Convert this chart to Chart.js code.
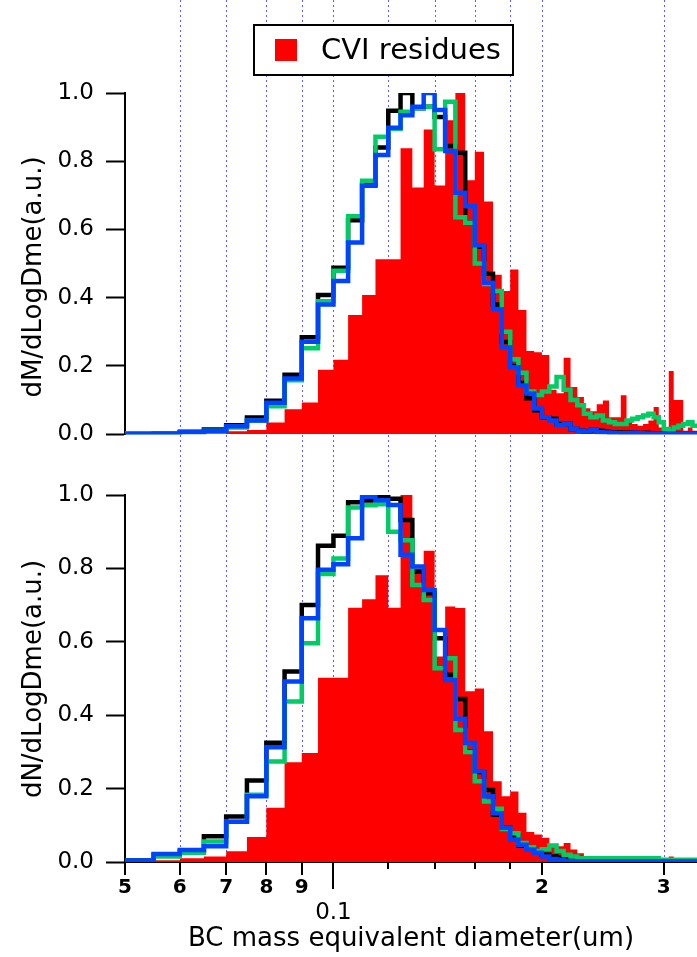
<!DOCTYPE html>
<html>
<head>
<meta charset="utf-8">
<script src="https://cdn.jsdelivr.net/npm/chart.js@4.4.1/dist/chart.umd.min.js"></script>
<style>
  html, body { margin: 0; padding: 0; background: #fff; }
  #wrap { position: relative; width: 697px; height: 957px; overflow: hidden; background: #fff; }
  canvas { position: absolute; left: 0; }
  #topChart { top: 0; }
  #bottomChart { top: 460px; }
</style>
</head>
<body>
<div id="wrap">
  <canvas id="topChart" width="697" height="460"></canvas>
  <canvas id="bottomChart" width="697" height="497"></canvas>
</div>
<script>
// Bordas dos bins (um), 5 nm de largura
const binEdges = [
  0.050, 0.055, 0.060, 0.065, 0.070, 0.075, 0.080, 0.085, 0.090, 0.095,
  0.100, 0.105, 0.110, 0.115, 0.120, 0.125, 0.130, 0.135, 0.140, 0.145,
  0.150, 0.155, 0.160, 0.165, 0.170, 0.175, 0.180, 0.185, 0.190, 0.195,
  0.200, 0.205, 0.210, 0.215, 0.220, 0.225, 0.230, 0.235, 0.240, 0.245,
  0.250, 0.255, 0.260, 0.265, 0.270, 0.275, 0.280, 0.285, 0.290, 0.295,
  0.300, 0.305, 0.310, 0.315, 0.320, 0.325, 0.330, 0.335
];

// Painel de cima: dM/dLogDme
const massRed = [
  0, 0, 0, 0.003, 0.009, 0.012, 0.034, 0.073, 0.093, 0.189,
  0.218, 0.349, 0.408, 0.513, 0.513, 0.838, 0.723, 0.893, 0.729, 0.92,
  1.0, 0.744, 0.828, 0.682, 0.467, 0.42, 0.483, 0.364, 0.244, 0.24,
  0.232, 0.13, 0.12, 0.224, 0.138, 0.109, 0.076, 0.067, 0.088, 0.099,
  0.05, 0.05, 0.114, 0.04, 0.03, 0.025, 0.03, 0.04, 0.08, 0.02,
  0.01, 0.185, 0.1, 0.1, 0.01, 0.02, 0.01
];
const massBlack = [
  0.002, 0.003, 0.007, 0.014, 0.026, 0.049, 0.098, 0.174, 0.284, 0.408,
  0.488, 0.627, 0.731, 0.84, 0.948, 1.0, 0.955, 0.96, 0.93, 0.845,
  0.825, 0.62, 0.55, 0.47, 0.38, 0.27, 0.2, 0.15, 0.105, 0.07,
  0.05, 0.045, 0.03, 0.03, 0.015, 0.01, 0.008, 0.012, 0.01, 0.008,
  0.005, 0.006, 0.004, 0.005, 0.004, 0.003, 0.004, 0.003, 0.003, 0.002,
  0.003, 0.002, 0.002, 0.002, 0.002, 0.002, 0.002
];
const massGreen = [
  0.002, 0.003, 0.006, 0.01, 0.02, 0.04, 0.082, 0.158, 0.252, 0.39,
  0.479, 0.639, 0.743, 0.872, 0.895, 0.945, 0.955, 0.96, 0.835, 0.974,
  0.636, 0.62, 0.5, 0.44, 0.42, 0.3, 0.22, 0.18, 0.125, 0.115,
  0.125, 0.14, 0.168, 0.13, 0.1, 0.085, 0.06, 0.05, 0.055, 0.04,
  0.035, 0.03, 0.03, 0.04, 0.045, 0.05, 0.055, 0.06, 0.05, 0.035,
  0.015, 0.008, 0.02, 0.025, 0.03, 0.035, 0.025
];
const massBlue = [
  0, 0.002, 0.006, 0.01, 0.023, 0.04, 0.092, 0.163, 0.271, 0.38,
  0.449, 0.562, 0.728, 0.818, 0.898, 0.935, 0.96, 1.0, 0.95, 0.83,
  0.708, 0.668, 0.554, 0.444, 0.366, 0.255, 0.196, 0.143, 0.119, 0.075,
  0.05, 0.04, 0.026, 0.03, 0.016, 0.01, 0.008, 0.012, 0.006, 0.005,
  0.004, 0.003, 0.003, 0.003, 0.004, 0.003, 0.002, 0.002, 0.002, 0.002,
  0.002, 0.002, 0.002, 0.002, 0.002, 0.002, 0.002
];

// Painel de baixo: dN/dLogDme
const numRed = [
  0.002, 0.005, 0.01, 0.015, 0.029, 0.068, 0.148, 0.272, 0.297, 0.502,
  0.502, 0.693, 0.716, 0.781, 0.693, 1.0, 0.8, 0.848, 0.56, 0.696,
  0.692, 0.465, 0.473, 0.356, 0.22, 0.179, 0.192, 0.134, 0.082, 0.075,
  0.066, 0.043, 0.043, 0.052, 0.034, 0.024, 0.015, 0.01, 0.008, 0.008,
  0.006, 0.01, 0.015, 0.005, 0.004, 0.004, 0.004, 0.004, 0.004, 0.004,
  0.003, 0.015, 0.01, 0.004, 0.003, 0.003, 0.003
];
const numBlack = [
  0.004, 0.02, 0.03, 0.07, 0.124, 0.222, 0.325, 0.519, 0.70, 0.862,
  0.889, 0.98, 0.985, 0.995, 0.99, 0.932, 0.791, 0.732, 0.61, 0.51,
  0.444, 0.301, 0.245, 0.196, 0.129, 0.093, 0.07, 0.045, 0.04, 0.025,
  0.02, 0.015, 0.012, 0.01, 0.006, 0.005, 0.005, 0.004, 0.004, 0.003,
  0.003, 0.003, 0.002, 0.002, 0.002, 0.002, 0.002, 0.002, 0.002, 0.002,
  0.002, 0.002, 0.002, 0.002, 0.002, 0.002, 0.002
];
const numGreen = [
  0.003, 0.015, 0.025, 0.056, 0.11, 0.183, 0.274, 0.437, 0.596, 0.785,
  0.827, 0.966, 0.972, 0.975, 0.9, 0.877, 0.755, 0.714, 0.528, 0.555,
  0.36, 0.3, 0.22, 0.165, 0.145, 0.09, 0.078, 0.052, 0.04, 0.03,
  0.035, 0.045, 0.03, 0.02, 0.015, 0.01, 0.01, 0.01, 0.01, 0.01,
  0.01, 0.01, 0.01, 0.01, 0.01, 0.01, 0.01, 0.01, 0.01, 0.006,
  0.006, 0.006, 0.006, 0.006, 0.006, 0.006, 0.006
];
const numBlue = [
  0.004, 0.022, 0.033, 0.043, 0.11, 0.179, 0.313, 0.492, 0.664, 0.796,
  0.811, 0.882, 0.995, 0.986, 0.973, 0.837, 0.805, 0.741, 0.632, 0.496,
  0.39, 0.324, 0.247, 0.179, 0.133, 0.093, 0.061, 0.047, 0.034, 0.025,
  0.015, 0.008, 0.006, 0.003, 0.002, 0.002, 0.002, 0.002, 0.002, 0.002,
  0.002, 0.002, 0.002, 0.002, 0.002, 0.002, 0.002, 0.002, 0.002, 0.002,
  0.002, 0.002, 0.002, 0.002, 0.002, 0.002, 0.002
];

// Eixos
const yTicks = [0, 0.2, 0.4, 0.6, 0.8, 1.0];
const gridDiameters = [0.06, 0.07, 0.08, 0.09, 0.1, 0.12, 0.14, 0.16, 0.18, 0.2, 0.3];
const labeledTicks = [0.05, 0.06, 0.07, 0.08, 0.09, 0.2, 0.3];
const labeledTickText = ["5", "6", "7", "8", "9", "2", "3"];
const minorTicks = [0.12, 0.14, 0.16, 0.18];
const decadeTick = 0.1;

const RED = "#ff0000";
const GREEN = "#00cc66";
const BLUE = "#0044ff";
const GRID_BLUE = "#5c5cff";
const FONT = "DejaVu Sans";

// Transforma os valores de cada bin em pontos de um degrau
function stepPoints(values) {
  const pts = values.map((v, i) => ({ x: binEdges[i], y: v }));
  pts.push({ x: binEdges[values.length], y: values[values.length - 1] });
  return pts;
}

function lineSet(label, values, color) {
  return {
    label,
    data: stepPoints(values),
    stepped: true,
    borderColor: color,
    borderWidth: 4.5,
    borderJoinStyle: "miter",
    pointRadius: 0,
    fill: false,
  };
}

function buildDatasets(red, black, green, blue) {
  // o primeiro dataset fica por cima
  return [
    lineSet("blue", blue, BLUE),
    lineSet("green", green, GREEN),
    lineSet("black", black, "#000"),
    {
      label: "CVI residues",
      data: stepPoints(red),
      stepped: true,
      borderWidth: 0,
      borderColor: RED,
      backgroundColor: RED,
      pointRadius: 0,
      fill: "origin",
    },
  ];
}

const decorPlugin = {
  id: "decor",
  beforeDatasetsDraw(chart, args, opts) {
    const ctx = chart.ctx;
    const xs = chart.scales.x;
    const yEnd = opts.bottomPanel ? chart.chartArea.bottom - 2 : chart.height;
    ctx.save();
    ctx.strokeStyle = GRID_BLUE;
    ctx.lineWidth = 1;
    ctx.setLineDash([2, 3]);
    gridDiameters.forEach((d) => {
      const px = Math.round(xs.getPixelForValue(d)) + 0.5;
      ctx.beginPath();
      ctx.moveTo(px, 0);
      ctx.lineTo(px, yEnd);
      ctx.stroke();
    });
    ctx.restore();
  },
  afterDraw(chart, args, opts) {
    const ctx = chart.ctx;
    const xs = chart.scales.x;
    const area = chart.chartArea;
    ctx.save();
    // titulo do eixo y
    ctx.fillStyle = "#000";
    ctx.font = `26px "${FONT}"`;
    ctx.textAlign = "center";
    ctx.textBaseline = "middle";
    ctx.translate(opts.yTitleX, opts.yTitleY);
    ctx.rotate(-Math.PI / 2);
    ctx.fillText(opts.yTitle, 0, 0);
    ctx.restore();

    if (!opts.bottomPanel) {
      // legenda
      const ds = chart.data.datasets[3];
      ctx.save();
      ctx.fillStyle = "#fff";
      ctx.fillRect(254, 25, 259, 50);
      ctx.strokeStyle = "#000";
      ctx.lineWidth = 2;
      ctx.strokeRect(254, 25, 259, 50);
      ctx.fillStyle = ds.backgroundColor;
      ctx.fillRect(275, 39, 22, 22);
      ctx.fillStyle = "#000";
      ctx.font = `29px "${FONT}"`;
      ctx.textBaseline = "middle";
      ctx.fillText(ds.label, 321, 51);
      ctx.restore();
      return;
    }

    // marcas do eixo x
    const y0 = area.bottom + 1;
    ctx.save();
    ctx.strokeStyle = "#000";
    ctx.lineWidth = 2;
    const mark = (v, len) => {
      const px = Math.round(xs.getPixelForValue(v));
      ctx.beginPath();
      ctx.moveTo(px, y0);
      ctx.lineTo(px, y0 + len);
      ctx.stroke();
    };
    labeledTicks.forEach((v) => mark(v, 12));
    minorTicks.forEach((v) => mark(v, 6));
    mark(decadeTick, 26);

    ctx.fillStyle = "#000";
    ctx.textAlign = "center";
    ctx.textBaseline = "middle";
    ctx.font = `23px "${FONT}"`;
    ctx.fillText(String(decadeTick), xs.getPixelForValue(decadeTick), 453);
    ctx.font = `26px "${FONT}"`;
    ctx.fillText(opts.xTitle, (area.left + area.right) / 2, 479);
    ctx.restore();
  },
};

function yScale() {
  return {
    min: 0,
    max: 1,
    afterFit: (s) => { s.width = 125; },
    afterBuildTicks: (s) => { s.ticks = yTicks.map((v) => ({ value: v })); },
    ticks: {
      padding: 12,
      color: "#000",
      font: { family: FONT, size: 23 },
      callback: (v) => Number(v).toFixed(1),
    },
    grid: { drawOnChartArea: false, tickLength: 19, tickColor: "#000", tickWidth: 2 },
    border: { color: "#000", width: 2 },
  };
}

function buildChart(canvasId, datasets, bottomPanel, yTitle, yTitleX, yTitleY) {
  const xScale = {
    type: "logarithmic",
    min: 0.05,
    max: 0.335,
    display: bottomPanel,
  };
  if (bottomPanel) {
    Object.assign(xScale, {
      afterFit: (s) => { s.height = 95; },
      afterBuildTicks: (s) => { s.ticks = labeledTicks.map((v) => ({ value: v })); },
      grid: { display: false, drawTicks: false },
      border: { display: true, color: "#000", width: 2 },
      ticks: {
        autoSkip: false,
        maxRotation: 0,
        padding: 14,
        color: "#000",
        font: { family: FONT, size: 20, weight: "bold" },
        callback: (v, i) => labeledTickText[i],
      },
    });
  }

  return new Chart(document.getElementById(canvasId).getContext("2d"), {
    type: "line",
    data: { datasets },
    plugins: [decorPlugin],
    options: {
      responsive: false,
      animation: false,
      devicePixelRatio: 1,
      parsing: false,
      layout: {
        padding: bottomPanel
          ? { top: 35, bottom: 0, left: 0, right: 0 }
          : { top: 93, bottom: 24, left: 0, right: 0 },
      },
      scales: { x: xScale, y: yScale() },
      plugins: {
        legend: { display: false },
        tooltip: { enabled: false },
        decor: {
          bottomPanel,
          yTitle,
          yTitleX,
          yTitleY,
          xTitle: "BC mass equivalent diameter(um)",
        },
      },
    },
  });
}

buildChart("topChart", buildDatasets(massRed, massBlack, massGreen, massBlue),
  false, "dM/dLogDme(a.u.)", 34, 277);
buildChart("bottomChart", buildDatasets(numRed, numBlack, numGreen, numBlue),
  true, "dN/dLogDme(a.u.)", 34, 219);
</script>
</body>
</html>
